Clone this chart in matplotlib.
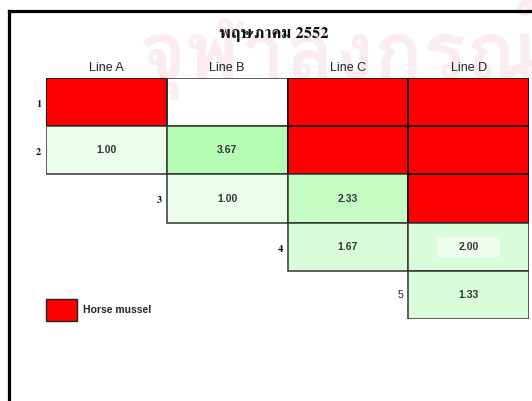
import matplotlib
matplotlib.use("Agg")
import numpy as np
import matplotlib.pyplot as plt
from matplotlib import font_manager
from matplotlib.colors import ListedColormap, BoundaryNorm
from matplotlib.patches import Rectangle
from matplotlib.lines import Line2D

# ---- data -------------------------------------------------------------
title = "พฤษภาคม 2552"
watermark = "จุฬาลงกรณ์"
columns = ["Line A", "Line B", "Line C", "Line D"]
row_labels = ["1", "2", "3", "4", "5"]
row_start = [0, 0, 1, 2, 3]          # first column used by each row

nan = np.nan
values = np.array([
    [nan, nan,  nan,  nan],
    [1.00, 3.67, nan, nan],
    [nan, 1.00, 2.33, nan],
    [nan, nan,  1.67, 2.00],
    [nan, nan,  nan,  1.33],
])
horse_mussel = np.array([
    [1, 0, 1, 1],
    [0, 0, 1, 1],
    [0, 0, 0, 1],
    [0, 0, 0, 0],
    [0, 0, 0, 0],
])
highlighted = [(3, 3)]               # (row, col) labels drawn on a pale box
legend_label = "Horse mussel"

value_bins = [1.0, 1.3, 2.3, 3.0, 4.0]
value_colors = ["#ebfdeb", "#d8fdd8", "#c5fdc5", "#b5fdb5"]

# ---- fonts ------------------------------------------------------------
available = {f.name for f in font_manager.fontManager.ttflist}

def pick(*names):
    for n in names:
        if n in available:
            return n
    return "DejaVu Sans"

thai_serif = pick("Norasi", "Kinnari", "FreeSerif", "Loma")
thai_sans = pick("Loma", "Garuda", "Athiti", "FreeSans")
sans = pick("Liberation Sans", "Arial", "DejaVu Sans")

# ---- figure -----------------------------------------------------------
W, H = 532, 401
fig = plt.figure(figsize=(W / 100, H / 100), dpi=100)
fig.patch.set_facecolor("white")

def fx(px):
    return px / W

def fy(py):
    return 1 - py / H

# faint watermark behind everything
fig.text(fx(139), fy(79), watermark, fontsize=58, fontweight="bold",
         family=[thai_sans, "DejaVu Sans"], color="#faecef",
         ha="left", va="baseline", zorder=-2)

# outer frame (top and left edges)
fig.add_artist(Line2D([fx(8.5), fx(W + 5)], [fy(10.5), fy(10.5)],
                      color="black", lw=2.3, solid_capstyle="projecting"))
fig.add_artist(Line2D([fx(8.5), fx(8.5)], [fy(10.5), fy(H + 5)],
                      color="black", lw=2.3, solid_capstyle="projecting"))

fig.text(fx(274), fy(34), title, fontsize=12, fontweight="bold",
         family=[thai_serif, "DejaVu Serif"], ha="center", va="center",
         color="#111111")

# grid axes
left, right, top, bottom = 46, 529, 78, 319
ax = fig.add_axes([fx(left), fy(bottom), fx(right - left), (bottom - top) / H])
ax.set_facecolor("none")
nrows, ncols = values.shape
ax.set_xlim(0, ncols)
ax.set_ylim(nrows, 0)
for s in ax.spines.values():
    s.set_visible(False)
ax.xaxis.tick_top()
ax.set_xticks(np.arange(ncols) + 0.5)
ax.set_xticklabels(columns, fontsize=9, family=sans, color="#222222")
ax.tick_params(axis="x", length=0, pad=3)
ax.set_yticks([])

cmap = ListedColormap(value_colors)
norm = BoundaryNorm(value_bins, cmap.N)

for r in range(nrows):
    for c in range(row_start[r], ncols):
        v = values[r, c]
        if horse_mussel[r, c]:
            face, edge = "#ff0000", "black"
        elif np.isnan(v):
            face, edge = "none", "#333333"
        else:
            face, edge = cmap(norm(v)), "#333333"
        ax.add_patch(Rectangle((c, r), 1, 1, facecolor=face, edgecolor=edge,
                               lw=1.1, zorder=2))
        if not np.isnan(v):
            if (r, c) in highlighted:
                ax.add_patch(Rectangle((c + 0.24, r + 0.29), 0.52, 0.42,
                                       facecolor="#eefdee", edgecolor="none",
                                       zorder=3))
            ax.text(c + 0.5, r + 0.5, f"{v:.2f}", ha="center", va="center",
                    fontsize=7.5, fontweight="bold", family=sans,
                    color="#333333", zorder=4)

# row numbers just left of each row's first cell
for r, lab in enumerate(row_labels):
    x = row_start[r] - 0.04
    if r < nrows - 1:
        ax.text(x, r + 0.55, lab, ha="right", va="center", fontsize=7.5,
                fontweight="bold", family=[thai_serif, "DejaVu Serif"],
                color="#111111")
    else:
        ax.text(x, r + 0.5, lab, ha="right", va="center", fontsize=7.5,
                family=sans, color="#222222")

# legend
fig.add_artist(Rectangle((fx(46), fy(321)), fx(31), 22 / H,
                         facecolor="#ff0000", edgecolor="#222222", lw=1.0,
                         transform=fig.transFigure))
fig.text(fx(83), fy(310), legend_label, fontsize=7.5, fontweight="bold",
         family=sans, color="#222222", ha="left", va="center")

fig.savefig("out.png", dpi=100)
